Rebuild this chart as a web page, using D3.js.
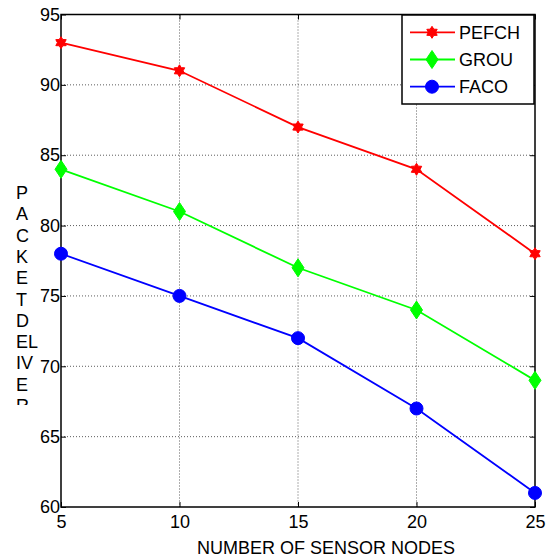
<!DOCTYPE html>
<html>
<head>
<meta charset="utf-8">
<script src="https://cdn.jsdelivr.net/npm/d3@7"></script>
<style>
  html, body { margin: 0; padding: 0; background: #fff; }
  svg { display: block; font-family: Arial, "Liberation Sans", sans-serif; }
</style>
</head>
<body>
<svg id="chart" width="547" height="558"></svg>
<script>
const xValues = [5, 10, 15, 20, 25];
const pefch = [93, 91, 87, 84, 78];
const grou = [84, 81, 77, 74, 69];
const faco = [78, 75, 72, 67, 61];
const seriesNames = ["PEFCH", "GROU", "FACO"];
const xTicks = [5, 10, 15, 20, 25];
const yTicks = [60, 65, 70, 75, 80, 85, 90, 95];
const xLabel = "NUMBER OF SENSOR NODES";
const yLabelLines = ["P", "A", "C", "K", "E", "T", "D", "EL", "IV", "E", "R"];

const svg = d3.select("#chart");
const W = 547, H = 558;
const L = 61, R = 535, T = 14.5, B = 507;
const fs = 18;

svg.append("rect").attr("width", W).attr("height", H).attr("fill", "#fff");

const x = d3.scaleLinear().domain([5, 25]).range([L, R]);
const y = d3.scaleLinear().domain([60, 95]).range([B, T]);

// grid
const grid = svg.append("g").attr("stroke", "#333").attr("stroke-width", 0.8).attr("stroke-dasharray", "1,2");
grid.selectAll("line.gx").data(xTicks.slice(1, -1)).join("line")
  .attr("x1", d => x(d)).attr("x2", d => x(d)).attr("y1", T).attr("y2", B);
grid.selectAll("line.gy").data(yTicks.slice(1, -1)).join("line")
  .attr("y1", d => y(d)).attr("y2", d => y(d)).attr("x1", L).attr("x2", R);

// axes
const xAxis = svg.append("g").attr("transform", `translate(0,${B})`)
  .call(d3.axisBottom(x).tickValues(xTicks).tickSizeInner(-5).tickSizeOuter(0).tickPadding(8).tickFormat(d3.format("d")));
const yAxis = svg.append("g").attr("transform", `translate(${L},0)`)
  .call(d3.axisLeft(y).tickValues(yTicks).tickSizeInner(-5).tickSizeOuter(0).tickPadding(1).tickFormat(d3.format("d")));
const xAxisTop = svg.append("g").attr("transform", `translate(0,${T})`)
  .call(d3.axisTop(x).tickValues(xTicks).tickSizeInner(-5).tickSizeOuter(0).tickFormat(""));
const yAxisRight = svg.append("g").attr("transform", `translate(${R},0)`)
  .call(d3.axisRight(y).tickValues(yTicks).tickSizeInner(-5).tickSizeOuter(0).tickFormat(""));
[xAxis, yAxis, xAxisTop, yAxisRight].forEach(g => {
  g.select(".domain").remove();
  g.selectAll("line").attr("stroke", "#000");
  g.selectAll("text").attr("font-size", fs).attr("fill", "#000").attr("font-family", "Arial, 'Liberation Sans', sans-serif");
});

// box
svg.append("rect").attr("x", L).attr("y", T).attr("width", R - L).attr("height", B - T)
  .attr("fill", "none").attr("stroke", "#000").attr("stroke-width", 1.5);

// x label
svg.append("text").attr("x", 326).attr("y", 554).attr("text-anchor", "middle")
  .attr("font-size", fs).text(xLabel);

// y label (stacked, clipped)
svg.append("clipPath").attr("id", "ylclip").append("rect").attr("x", 0).attr("y", 0).attr("width", 60).attr("height", 405);
const yl = svg.append("text").attr("clip-path", "url(#ylclip)").attr("font-size", fs);
yl.selectAll("tspan").data(yLabelLines).join("tspan")
  .attr("x", 16).attr("y", (d, i) => 199 + i * 21.3).text(d => d);

// markers
function hexagram(r) {
  const pts = [];
  for (let i = 0; i < 12; i++) {
    const a = -Math.PI / 2 + i * Math.PI / 6;
    const rr = i % 2 === 0 ? r : r * 0.6;
    pts.push([rr * Math.cos(a), rr * Math.sin(a)]);
  }
  return "M" + pts.map(p => p.join(",")).join("L") + "Z";
}
function diamond(w, h) { return `M0,${-h}L${w},0L0,${h}L${-w},0Z`; }
function circle(r) { return `M${-r},0A${r},${r} 0 1,0 ${r},0A${r},${r} 0 1,0 ${-r},0Z`; }

const series = [
  { name: seriesNames[0], values: pefch, color: "#ff0000", marker: hexagram(6) },
  { name: seriesNames[1], values: grou, color: "#00ff00", marker: diamond(6, 9) },
  { name: seriesNames[2], values: faco, color: "#0000ff", marker: circle(6.5) }
];

const line = d3.line().x((d, i) => x(xValues[i])).y(d => y(d));
series.forEach(s => {
  svg.append("path").datum(s.values).attr("d", line)
    .attr("fill", "none").attr("stroke", s.color).attr("stroke-width", 1.8);
  svg.selectAll(null).data(s.values).join("path")
    .attr("transform", (d, i) => `translate(${x(xValues[i])},${y(d)})`)
    .attr("d", s.marker).attr("fill", s.color).attr("stroke", s.color).attr("stroke-width", 1);
});

// legend
const lg = svg.append("g");
lg.append("rect").attr("x", 402).attr("y", 15).attr("width", 132).attr("height", 89)
  .attr("fill", "#fff").attr("stroke", "#000").attr("stroke-width", 1.5);
series.forEach((s, i) => {
  const cy = 32.3 + i * 27.2;
  lg.append("line").attr("x1", 410).attr("x2", 455).attr("y1", cy).attr("y2", cy)
    .attr("stroke", s.color).attr("stroke-width", 1.8);
  lg.append("path").attr("transform", `translate(432,${cy})`).attr("d", s.marker)
    .attr("fill", s.color).attr("stroke", s.color).attr("stroke-width", 1);
  lg.append("text").attr("x", 459).attr("y", cy).attr("dy", "0.36em").attr("font-size", fs).text(s.name);
});
</script>
</body>
</html>
